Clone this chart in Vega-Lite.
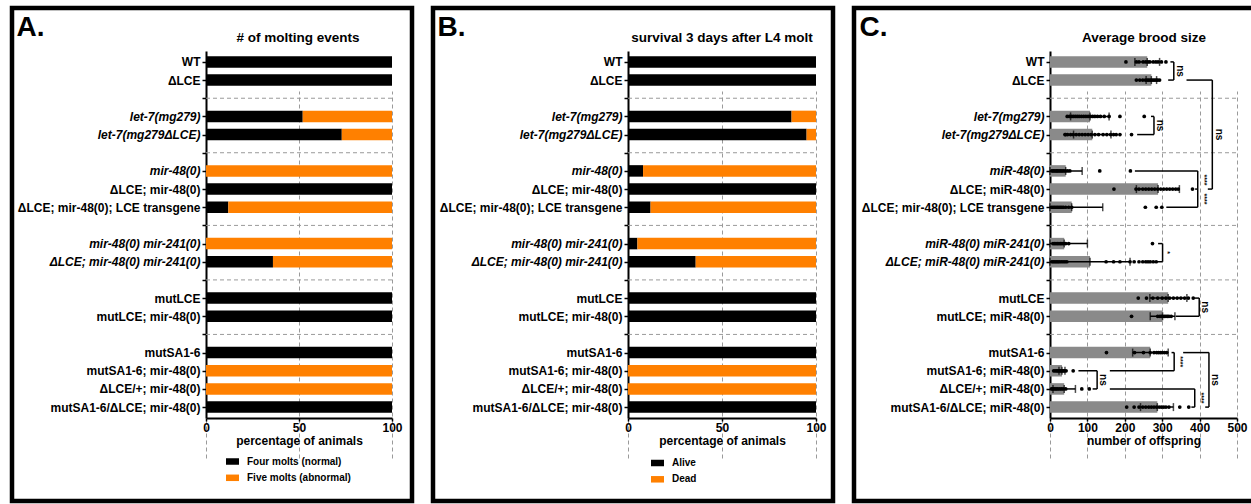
{
  "$schema": "https://vega.github.io/schema/vega-lite/v6.json",
  "background": "white",
  "padding": {"left": 9, "top": 5, "right": 0, "bottom": 0},
  "spacing": 15,
  "resolve": {"scale": {"x": "independent", "y": "independent", "color": "independent"}, "axis": {"x": "independent", "y": "independent"}, "legend": {"color": "independent"}},
  "config": {
    "font": "Liberation Sans",
    "view": {"stroke": "#000000", "strokeWidth": 4.5},
    "axis": {"labelFont": "Liberation Sans", "labelFontWeight": "bold", "labelColor": "#000000", "labelFontSize": 12, "titleFont": "Liberation Sans", "titleFontWeight": "bold", "titleColor": "#000000", "titleFontSize": 12, "domainColor": "#000000", "domainWidth": 2, "tickColor": "#000000", "tickWidth": 1.5, "tickSize": 4, "grid": false, "labelOverlap": false, "labelLimit": 0},
    "axisY": {"labelOverlap": false, "labelLimit": 0},
    "title": {"font": "Liberation Sans", "fontWeight": "bold", "fontSize": 13.5, "color": "#000000"},
    "legend": {"labelFont": "Liberation Sans"}
  },
  "datasets": {
    "gaps": [{"row": 2}, {"row": 5}, {"row": 9}, {"row": 12}, {"row": 15}],
    "molt": [
      {"row": 0, "strain": "WT", "outcome": "Four molts (normal)", "from": 0, "to": 100},
      {"row": 1, "strain": "ΔLCE", "outcome": "Four molts (normal)", "from": 0, "to": 100},
      {"row": 3, "strain": "let-7(mg279)", "outcome": "Four molts (normal)", "from": 0, "to": 52},
      {"row": 3, "strain": "let-7(mg279)", "outcome": "Five molts (abnormal)", "from": 52, "to": 100},
      {"row": 4, "strain": "let-7(mg279ΔLCE)", "outcome": "Four molts (normal)", "from": 0, "to": 73},
      {"row": 4, "strain": "let-7(mg279ΔLCE)", "outcome": "Five molts (abnormal)", "from": 73, "to": 100},
      {"row": 6, "strain": "mir-48(0)", "outcome": "Five molts (abnormal)", "from": 0, "to": 100},
      {"row": 7, "strain": "ΔLCE; mir-48(0)", "outcome": "Four molts (normal)", "from": 0, "to": 100},
      {"row": 8, "strain": "ΔLCE; mir-48(0); LCE transgene", "outcome": "Four molts (normal)", "from": 0, "to": 12},
      {"row": 8, "strain": "ΔLCE; mir-48(0); LCE transgene", "outcome": "Five molts (abnormal)", "from": 12, "to": 100},
      {"row": 10, "strain": "mir-48(0) mir-241(0)", "outcome": "Five molts (abnormal)", "from": 0, "to": 100},
      {"row": 11, "strain": "ΔLCE; mir-48(0) mir-241(0)", "outcome": "Four molts (normal)", "from": 0, "to": 36},
      {"row": 11, "strain": "ΔLCE; mir-48(0) mir-241(0)", "outcome": "Five molts (abnormal)", "from": 36, "to": 100},
      {"row": 13, "strain": "mutLCE", "outcome": "Four molts (normal)", "from": 0, "to": 100},
      {"row": 14, "strain": "mutLCE; mir-48(0)", "outcome": "Four molts (normal)", "from": 0, "to": 100},
      {"row": 16, "strain": "mutSA1-6", "outcome": "Four molts (normal)", "from": 0, "to": 100},
      {"row": 17, "strain": "mutSA1-6; mir-48(0)", "outcome": "Five molts (abnormal)", "from": 0, "to": 100},
      {"row": 18, "strain": "ΔLCE/+; mir-48(0)", "outcome": "Five molts (abnormal)", "from": 0, "to": 100},
      {"row": 19, "strain": "mutSA1-6/ΔLCE; mir-48(0)", "outcome": "Four molts (normal)", "from": 0, "to": 100}
    ],
    "surv": [
      {"row": 0, "strain": "WT", "outcome": "Alive", "from": 0, "to": 100},
      {"row": 1, "strain": "ΔLCE", "outcome": "Alive", "from": 0, "to": 100},
      {"row": 3, "strain": "let-7(mg279)", "outcome": "Alive", "from": 0, "to": 87},
      {"row": 3, "strain": "let-7(mg279)", "outcome": "Dead", "from": 87, "to": 100},
      {"row": 4, "strain": "let-7(mg279ΔLCE)", "outcome": "Alive", "from": 0, "to": 95},
      {"row": 4, "strain": "let-7(mg279ΔLCE)", "outcome": "Dead", "from": 95, "to": 100},
      {"row": 6, "strain": "mir-48(0)", "outcome": "Alive", "from": 0, "to": 8},
      {"row": 6, "strain": "mir-48(0)", "outcome": "Dead", "from": 8, "to": 100},
      {"row": 7, "strain": "ΔLCE; mir-48(0)", "outcome": "Alive", "from": 0, "to": 100},
      {"row": 8, "strain": "ΔLCE; mir-48(0); LCE transgene", "outcome": "Alive", "from": 0, "to": 12},
      {"row": 8, "strain": "ΔLCE; mir-48(0); LCE transgene", "outcome": "Dead", "from": 12, "to": 100},
      {"row": 10, "strain": "mir-48(0) mir-241(0)", "outcome": "Alive", "from": 0, "to": 5},
      {"row": 10, "strain": "mir-48(0) mir-241(0)", "outcome": "Dead", "from": 5, "to": 100},
      {"row": 11, "strain": "ΔLCE; mir-48(0) mir-241(0)", "outcome": "Alive", "from": 0, "to": 36},
      {"row": 11, "strain": "ΔLCE; mir-48(0) mir-241(0)", "outcome": "Dead", "from": 36, "to": 100},
      {"row": 13, "strain": "mutLCE", "outcome": "Alive", "from": 0, "to": 100},
      {"row": 14, "strain": "mutLCE; mir-48(0)", "outcome": "Alive", "from": 0, "to": 100},
      {"row": 16, "strain": "mutSA1-6", "outcome": "Alive", "from": 0, "to": 100},
      {"row": 17, "strain": "mutSA1-6; mir-48(0)", "outcome": "Dead", "from": 0, "to": 100},
      {"row": 18, "strain": "ΔLCE/+; mir-48(0)", "outcome": "Dead", "from": 0, "to": 100},
      {"row": 19, "strain": "mutSA1-6/ΔLCE; mir-48(0)", "outcome": "Alive", "from": 0, "to": 100}
    ],
    "brood": [
      {"row": 0, "strain": "WT", "mean": 260, "lo": 227, "hi": 293},
      {"row": 1, "strain": "ΔLCE", "mean": 271, "lo": 257, "hi": 285},
      {"row": 3, "strain": "let-7(mg279)", "mean": 107, "lo": 55, "hi": 158},
      {"row": 4, "strain": "let-7(mg279ΔLCE)", "mean": 113, "lo": 63, "hi": 163},
      {"row": 6, "strain": "miR-48(0)", "mean": 42, "lo": 0, "hi": 86},
      {"row": 7, "strain": "ΔLCE; miR-48(0)", "mean": 289, "lo": 231, "hi": 346},
      {"row": 8, "strain": "ΔLCE; mir-48(0); LCE transgene", "mean": 58, "lo": 0, "hi": 141},
      {"row": 10, "strain": "miR-48(0) miR-241(0)", "mean": 38, "lo": 0, "hi": 100},
      {"row": 11, "strain": "ΔLCE; miR-48(0) miR-241(0)", "mean": 107, "lo": 0, "hi": 214},
      {"row": 13, "strain": "mutLCE", "mean": 316, "lo": 267, "hi": 366},
      {"row": 14, "strain": "mutLCE; miR-48(0)", "mean": 301, "lo": 268, "hi": 334},
      {"row": 16, "strain": "mutSA1-6", "mean": 268, "lo": 221, "hi": 316},
      {"row": 17, "strain": "mutSA1-6; miR-48(0)", "mean": 32, "lo": 24, "hi": 40},
      {"row": 18, "strain": "ΔLCE/+; miR-48(0)", "mean": 38, "lo": 8, "hi": 68},
      {"row": 19, "strain": "mutSA1-6/ΔLCE; miR-48(0)", "mean": 287, "lo": 242, "hi": 330}
    ],
    "pts": [
      {"row": 0, "v": 203}, {"row": 0, "v": 231}, {"row": 0, "v": 238}, {"row": 0, "v": 249}, {"row": 0, "v": 256}, {"row": 0, "v": 262}, {"row": 0, "v": 267}, {"row": 0, "v": 276}, {"row": 0, "v": 283}, {"row": 0, "v": 289}, {"row": 0, "v": 298}, {"row": 0, "v": 310},
      {"row": 1, "v": 231}, {"row": 1, "v": 240}, {"row": 1, "v": 248}, {"row": 1, "v": 255}, {"row": 1, "v": 260}, {"row": 1, "v": 264}, {"row": 1, "v": 268}, {"row": 1, "v": 272}, {"row": 1, "v": 276}, {"row": 1, "v": 280}, {"row": 1, "v": 284}, {"row": 1, "v": 288}, {"row": 1, "v": 293},
      {"row": 3, "v": 46}, {"row": 3, "v": 52}, {"row": 3, "v": 58}, {"row": 3, "v": 63}, {"row": 3, "v": 68}, {"row": 3, "v": 73}, {"row": 3, "v": 78}, {"row": 3, "v": 84}, {"row": 3, "v": 90}, {"row": 3, "v": 96}, {"row": 3, "v": 102}, {"row": 3, "v": 108}, {"row": 3, "v": 114}, {"row": 3, "v": 120}, {"row": 3, "v": 127}, {"row": 3, "v": 135}, {"row": 3, "v": 145}, {"row": 3, "v": 158}, {"row": 3, "v": 187}, {"row": 3, "v": 252},
      {"row": 4, "v": 40}, {"row": 4, "v": 42}, {"row": 4, "v": 47}, {"row": 4, "v": 55}, {"row": 4, "v": 62}, {"row": 4, "v": 70}, {"row": 4, "v": 78}, {"row": 4, "v": 86}, {"row": 4, "v": 94}, {"row": 4, "v": 102}, {"row": 4, "v": 110}, {"row": 4, "v": 120}, {"row": 4, "v": 130}, {"row": 4, "v": 142}, {"row": 4, "v": 152}, {"row": 4, "v": 162}, {"row": 4, "v": 170}, {"row": 4, "v": 177}, {"row": 4, "v": 187}, {"row": 4, "v": 218},
      {"row": 6, "v": 5}, {"row": 6, "v": 9}, {"row": 6, "v": 13}, {"row": 6, "v": 17}, {"row": 6, "v": 20}, {"row": 6, "v": 24}, {"row": 6, "v": 28}, {"row": 6, "v": 32}, {"row": 6, "v": 36}, {"row": 6, "v": 41}, {"row": 6, "v": 47}, {"row": 6, "v": 53}, {"row": 6, "v": 133}, {"row": 6, "v": 215},
      {"row": 7, "v": 171}, {"row": 7, "v": 230}, {"row": 7, "v": 238}, {"row": 7, "v": 248}, {"row": 7, "v": 256}, {"row": 7, "v": 264}, {"row": 7, "v": 272}, {"row": 7, "v": 280}, {"row": 7, "v": 288}, {"row": 7, "v": 296}, {"row": 7, "v": 304}, {"row": 7, "v": 312}, {"row": 7, "v": 320}, {"row": 7, "v": 328}, {"row": 7, "v": 336}, {"row": 7, "v": 343}, {"row": 7, "v": 381},
      {"row": 8, "v": 4}, {"row": 8, "v": 8}, {"row": 8, "v": 12}, {"row": 8, "v": 16}, {"row": 8, "v": 20}, {"row": 8, "v": 24}, {"row": 8, "v": 28}, {"row": 8, "v": 32}, {"row": 8, "v": 36}, {"row": 8, "v": 42}, {"row": 8, "v": 50}, {"row": 8, "v": 58}, {"row": 8, "v": 255}, {"row": 8, "v": 284}, {"row": 8, "v": 299},
      {"row": 10, "v": 8}, {"row": 10, "v": 12}, {"row": 10, "v": 16}, {"row": 10, "v": 20}, {"row": 10, "v": 24}, {"row": 10, "v": 28}, {"row": 10, "v": 32}, {"row": 10, "v": 36}, {"row": 10, "v": 42}, {"row": 10, "v": 50}, {"row": 10, "v": 274},
      {"row": 11, "v": 5}, {"row": 11, "v": 9}, {"row": 11, "v": 13}, {"row": 11, "v": 17}, {"row": 11, "v": 21}, {"row": 11, "v": 25}, {"row": 11, "v": 30}, {"row": 11, "v": 35}, {"row": 11, "v": 40}, {"row": 11, "v": 45}, {"row": 11, "v": 150}, {"row": 11, "v": 170}, {"row": 11, "v": 187}, {"row": 11, "v": 214}, {"row": 11, "v": 225}, {"row": 11, "v": 238}, {"row": 11, "v": 248}, {"row": 11, "v": 256}, {"row": 11, "v": 262}, {"row": 11, "v": 268}, {"row": 11, "v": 276}, {"row": 11, "v": 284},
      {"row": 13, "v": 236}, {"row": 13, "v": 258}, {"row": 13, "v": 275}, {"row": 13, "v": 288}, {"row": 13, "v": 300}, {"row": 13, "v": 310}, {"row": 13, "v": 320}, {"row": 13, "v": 330}, {"row": 13, "v": 340}, {"row": 13, "v": 350}, {"row": 13, "v": 360}, {"row": 13, "v": 370}, {"row": 13, "v": 383},
      {"row": 14, "v": 218}, {"row": 14, "v": 288}, {"row": 14, "v": 294}, {"row": 14, "v": 298}, {"row": 14, "v": 302}, {"row": 14, "v": 306}, {"row": 14, "v": 310}, {"row": 14, "v": 314}, {"row": 14, "v": 318}, {"row": 14, "v": 324},
      {"row": 16, "v": 151}, {"row": 16, "v": 226}, {"row": 16, "v": 250}, {"row": 16, "v": 268}, {"row": 16, "v": 278}, {"row": 16, "v": 285}, {"row": 16, "v": 290}, {"row": 16, "v": 295}, {"row": 16, "v": 300}, {"row": 16, "v": 306}, {"row": 16, "v": 312},
      {"row": 17, "v": 10}, {"row": 17, "v": 14}, {"row": 17, "v": 18}, {"row": 17, "v": 21}, {"row": 17, "v": 24}, {"row": 17, "v": 27}, {"row": 17, "v": 30}, {"row": 17, "v": 33}, {"row": 17, "v": 36}, {"row": 17, "v": 39}, {"row": 17, "v": 43}, {"row": 17, "v": 62},
      {"row": 18, "v": 4}, {"row": 18, "v": 8}, {"row": 18, "v": 12}, {"row": 18, "v": 16}, {"row": 18, "v": 20}, {"row": 18, "v": 25}, {"row": 18, "v": 30}, {"row": 18, "v": 35}, {"row": 18, "v": 42}, {"row": 18, "v": 85}, {"row": 18, "v": 105},
      {"row": 19, "v": 205}, {"row": 19, "v": 225}, {"row": 19, "v": 238}, {"row": 19, "v": 248}, {"row": 19, "v": 256}, {"row": 19, "v": 264}, {"row": 19, "v": 271}, {"row": 19, "v": 278}, {"row": 19, "v": 285}, {"row": 19, "v": 292}, {"row": 19, "v": 298}, {"row": 19, "v": 304}, {"row": 19, "v": 310}, {"row": 19, "v": 318}, {"row": 19, "v": 347}, {"row": 19, "v": 371}
    ],
    "hseg": [
      {"row": 0, "from": 322, "to": 331}, {"row": 1, "from": 316, "to": 331},
      {"row": 3, "from": 270, "to": 278}, {"row": 4, "from": 233, "to": 278},
      {"row": 1, "from": 365, "to": 434}, {"row": 7, "from": 422, "to": 434},
      {"row": 6, "from": 227, "to": 395}, {"row": 7, "from": 388, "to": 395}, {"row": 8, "from": 311, "to": 395},
      {"row": 10, "from": 289, "to": 301}, {"row": 11, "from": 276, "to": 301},
      {"row": 13, "from": 387, "to": 399}, {"row": 14, "from": 336, "to": 399},
      {"row": 16, "from": 325, "to": 332}, {"row": 17, "from": 160, "to": 332},
      {"row": 17, "from": 76, "to": 126}, {"row": 18, "from": 114, "to": 126},
      {"row": 18, "from": 160, "to": 387}, {"row": 19, "from": 378, "to": 387},
      {"row": 16, "from": 356, "to": 425}, {"row": 19, "from": 415, "to": 425}
    ],
    "vseg": [
      {"x": 331, "row": 0, "row2": 1}, {"x": 278, "row": 3, "row2": 4}, {"x": 434, "row": 1, "row2": 7},
      {"x": 395, "row": 6, "row2": 8}, {"x": 301, "row": 10, "row2": 11}, {"x": 399, "row": 13, "row2": 14},
      {"x": 332, "row": 16, "row2": 17}, {"x": 126, "row": 17, "row2": 18}, {"x": 387, "row": 18, "row2": 19},
      {"x": 425, "row": 16, "row2": 19}
    ],
    "sig": [
      {"row": 0.5, "x": 347, "label": "ns"}, {"row": 3.5, "x": 294, "label": "ns"}, {"row": 4, "x": 451, "label": "ns"},
      {"row": 6.5, "x": 412, "label": "****"}, {"row": 7.55, "x": 412, "label": "****"}, {"row": 10.5, "x": 313, "label": "*"},
      {"row": 13.5, "x": 414, "label": "ns"}, {"row": 16.5, "x": 347, "label": "****"}, {"row": 17.5, "x": 142, "label": "ns"},
      {"row": 18.5, "x": 404, "label": "****"}, {"row": 17.5, "x": 442, "label": "ns"}
    ]
  },
  "hconcat": [
    {
      "width": 400, "height": 493,
      "title": {"text": "# of molting events", "anchor": "middle", "frame": "group", "dx": 86, "offset": -36},
      "encoding": {
        "y": {"field": "row", "type": "quantitative",
          "scale": {"domain": [-0.6, 19.6], "range": [43, 410], "nice": false, "zero": false, "padding": 0},
          "axis": {"orient": "left", "offset": -194, "values": [0,1,2,3,4,5,6,7,8,9,10,11,12,13,14,15,16,17,18,19],
            "labelExpr": "['WT','ΔLCE','','let-7(mg279)','let-7(mg279ΔLCE)','','mir-48(0)','ΔLCE; mir-48(0)','ΔLCE; mir-48(0); LCE transgene','','mir-48(0) mir-241(0)','ΔLCE; mir-48(0) mir-241(0)','','mutLCE','mutLCE; mir-48(0)','','mutSA1-6','mutSA1-6; mir-48(0)','ΔLCE/+; mir-48(0)','mutSA1-6/ΔLCE; mir-48(0)'][datum.value]",
            "labelFontStyle": {"condition": {"test": "indexof([3,4,6,10,11], datum.value) >= 0", "value": "italic"}, "value": "normal"},
            "labelPadding": 2, "tickSize": 4, "labelOverlap": false, "labelLimit": 0,
            "title": "A.", "titleAngle": 0, "titleX": -190, "titleY": 27, "titleAlign": "left", "titleBaseline": "alphabetic", "titleFontSize": 28}}
      },
      "layer": [
        {
          "data": {"name": "molt"},
          "mark": {"type": "bar", "orient": "horizontal", "size": 11.5},
          "encoding": {
            "x": {"field": "from", "type": "quantitative",
              "scale": {"domain": [0, 100], "range": [194, 380], "nice": false, "padding": 0},
              "axis": {"orient": "bottom", "offset": -83, "values": [0, 50, 100], "grid": true, "gridDash": [4, 3], "gridColor": "#9a9a9a", "gridWidth": 1, "tickSize": 3, "labelPadding": 1, "labelFlush": false, "title": "percentage of animals", "titlePadding": 2}},
            "x2": {"field": "to"},
            "color": {"field": "outcome", "type": "nominal",
              "scale": {"domain": ["Four molts (normal)", "Five molts (abnormal)"], "range": ["#000000", "#FF8000"]},
              "legend": {"orient": "none", "legendX": 214, "legendY": 447, "title": null, "symbolType": "M-1,-0.5H1V0.5H-1Z", "symbolSize": 169, "symbolStrokeWidth": 0, "symbolOpacity": 1, "labelFontSize": 10, "labelFontWeight": "bold", "labelColor": "#000000", "labelOffset": 8, "rowPadding": 4.3, "padding": 0}}
          }
        },
        {
          "data": {"name": "gaps"},
          "mark": {"type": "rule", "strokeDash": [4, 3], "color": "#9a9a9a", "strokeWidth": 1},
          "encoding": {"x": {"datum": 0, "type": "quantitative"}, "x2": {"datum": 100}}
        }
      ]
    },
    {
      "width": 400, "height": 493,
      "title": {"text": "survival 3 days after L4 molt", "anchor": "middle", "frame": "group", "dx": 89, "offset": -36},
      "encoding": {
        "y": {"field": "row", "type": "quantitative",
          "scale": {"domain": [-0.6, 19.6], "range": [43, 410], "nice": false, "zero": false, "padding": 0},
          "axis": {"orient": "left", "offset": -195, "values": [0,1,2,3,4,5,6,7,8,9,10,11,12,13,14,15,16,17,18,19],
            "labelExpr": "['WT','ΔLCE','','let-7(mg279)','let-7(mg279ΔLCE)','','mir-48(0)','ΔLCE; mir-48(0)','ΔLCE; mir-48(0); LCE transgene','','mir-48(0) mir-241(0)','ΔLCE; mir-48(0) mir-241(0)','','mutLCE','mutLCE; mir-48(0)','','mutSA1-6','mutSA1-6; mir-48(0)','ΔLCE/+; mir-48(0)','mutSA1-6/ΔLCE; mir-48(0)'][datum.value]",
            "labelFontStyle": {"condition": {"test": "indexof([3,4,6,10,11], datum.value) >= 0", "value": "italic"}, "value": "normal"},
            "labelPadding": 2, "tickSize": 4, "labelOverlap": false, "labelLimit": 0,
            "title": "B.", "titleAngle": 0, "titleX": -191, "titleY": 27, "titleAlign": "left", "titleBaseline": "alphabetic", "titleFontSize": 28}}
      },
      "layer": [
        {
          "data": {"name": "surv"},
          "mark": {"type": "bar", "orient": "horizontal", "size": 11.5},
          "encoding": {
            "x": {"field": "from", "type": "quantitative",
              "scale": {"domain": [0, 100], "range": [195, 383], "nice": false, "padding": 0},
              "axis": {"orient": "bottom", "offset": -83, "values": [0, 50, 100], "grid": true, "gridDash": [4, 3], "gridColor": "#9a9a9a", "gridWidth": 1, "tickSize": 3, "labelPadding": 1, "labelFlush": false, "title": "percentage of animals", "titlePadding": 2}},
            "x2": {"field": "to"},
            "color": {"field": "outcome", "type": "nominal",
              "scale": {"domain": ["Alive", "Dead"], "range": ["#000000", "#FF8000"]},
              "legend": {"orient": "none", "legendX": 218, "legendY": 448.5, "title": null, "symbolType": "M-1,-0.5H1V0.5H-1Z", "symbolSize": 169, "symbolStrokeWidth": 0, "symbolOpacity": 1, "labelFontSize": 10, "labelFontWeight": "bold", "labelColor": "#000000", "labelOffset": 8, "rowPadding": 4.3, "padding": 0}}
          }
        },
        {
          "data": {"name": "gaps"},
          "mark": {"type": "rule", "strokeDash": [4, 3], "color": "#9a9a9a", "strokeWidth": 1},
          "encoding": {"x": {"datum": 0, "type": "quantitative"}, "x2": {"datum": 100}}
        }
      ]
    },
    {
      "width": 400, "height": 493,
      "title": {"text": "Average brood size", "anchor": "middle", "frame": "group", "dx": 90, "offset": -36},
      "encoding": {
        "y": {"field": "row", "type": "quantitative",
          "scale": {"domain": [-0.6, 19.6], "range": [43, 410], "nice": false, "zero": false, "padding": 0},
          "axis": {"orient": "left", "offset": -196, "values": [0,1,2,3,4,5,6,7,8,9,10,11,12,13,14,15,16,17,18,19],
            "labelExpr": "['WT','ΔLCE','','let-7(mg279)','let-7(mg279ΔLCE)','','miR-48(0)','ΔLCE; miR-48(0)','ΔLCE; mir-48(0); LCE transgene','','miR-48(0) miR-241(0)','ΔLCE; miR-48(0) miR-241(0)','','mutLCE','mutLCE; miR-48(0)','','mutSA1-6','mutSA1-6; miR-48(0)','ΔLCE/+; miR-48(0)','mutSA1-6/ΔLCE; miR-48(0)'][datum.value]",
            "labelFontStyle": {"condition": {"test": "indexof([3,4,6,10,11], datum.value) >= 0", "value": "italic"}, "value": "normal"},
            "labelPadding": 2, "tickSize": 4, "labelOverlap": false, "labelLimit": 0,
            "title": "C.", "titleAngle": 0, "titleX": -191, "titleY": 27, "titleAlign": "left", "titleBaseline": "alphabetic", "titleFontSize": 28}}
      },
      "layer": [
        {
          "data": {"name": "brood"},
          "mark": {"type": "bar", "orient": "horizontal", "size": 11.5, "color": "#8a8a8a"},
          "encoding": {
            "x": {"field": "mean", "type": "quantitative",
              "scale": {"domain": [0, 500], "range": [196, 383], "nice": false, "padding": 0},
              "axis": {"orient": "bottom", "offset": -83, "values": [0, 100, 200, 300, 400, 500], "grid": true, "gridDash": [4, 3], "gridColor": "#9a9a9a", "gridWidth": 1, "tickSize": 3, "labelPadding": 1, "labelFlush": false, "title": "number of offspring", "titlePadding": 2}},
            "x2": {"datum": 0}
          }
        },
        {
          "data": {"name": "gaps"},
          "mark": {"type": "rule", "strokeDash": [4, 3], "color": "#9a9a9a", "strokeWidth": 1},
          "encoding": {"x": {"datum": 0, "type": "quantitative"}, "x2": {"datum": 500}}
        },
        {
          "data": {"name": "brood"},
          "mark": {"type": "rule", "color": "#000000", "strokeWidth": 1.5},
          "encoding": {"x": {"field": "lo", "type": "quantitative"}, "x2": {"field": "hi"}}
        },
        {
          "data": {"name": "brood"},
          "mark": {"type": "tick", "orient": "vertical", "color": "#000000", "size": 8, "thickness": 1.5},
          "encoding": {"x": {"field": "lo", "type": "quantitative"}}
        },
        {
          "data": {"name": "brood"},
          "mark": {"type": "tick", "orient": "vertical", "color": "#000000", "size": 8, "thickness": 1.5},
          "encoding": {"x": {"field": "hi", "type": "quantitative"}}
        },
        {
          "data": {"name": "brood"},
          "mark": {"type": "tick", "orient": "vertical", "color": "#000000", "size": 8, "thickness": 1.5},
          "encoding": {"x": {"field": "mean", "type": "quantitative"}}
        },
        {
          "data": {"name": "pts"},
          "mark": {"type": "point", "filled": true, "color": "#000000", "size": 14, "opacity": 1},
          "encoding": {"x": {"field": "v", "type": "quantitative"}}
        },
        {
          "data": {"name": "hseg"},
          "mark": {"type": "rule", "color": "#000000", "strokeWidth": 1.5},
          "encoding": {"x": {"field": "from", "type": "quantitative"}, "x2": {"field": "to"}}
        },
        {
          "data": {"name": "vseg"},
          "mark": {"type": "rule", "color": "#000000", "strokeWidth": 1.5},
          "encoding": {"x": {"field": "x", "type": "quantitative"}, "y2": {"field": "row2"}}
        },
        {
          "data": {"name": "sig"},
          "mark": {"type": "text", "angle": 90, "align": "center", "baseline": "middle", "fontWeight": "bold", "color": "#000000"},
          "encoding": {"x": {"field": "x", "type": "quantitative"}, "text": {"field": "label"},
            "size": {"condition": {"test": "datum.label == 'ns'", "value": 10}, "value": 7}}
        }
      ]
    }
  ]
}
